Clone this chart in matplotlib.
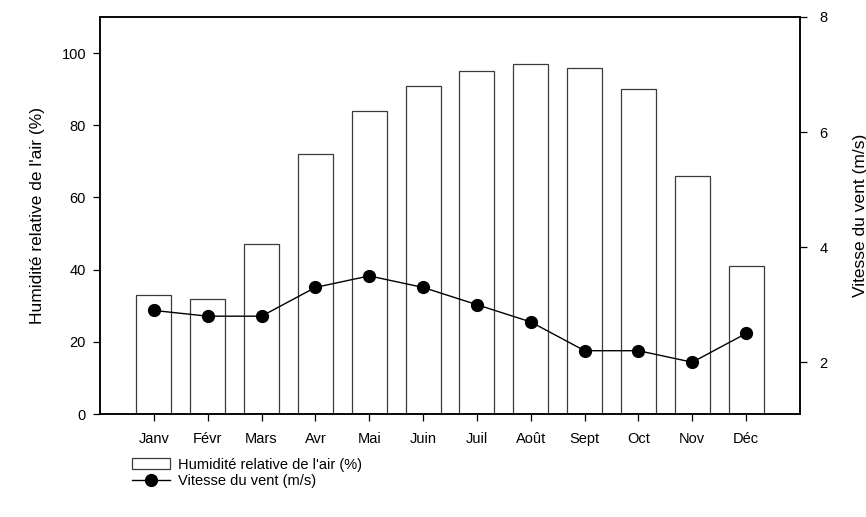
import matplotlib.pyplot as plt
import numpy as np

plt.rcParams['font.family'] = ['Liberation Sans', 'DejaVu Sans']

# Monthly data
mois = ['Janv', 'Févr', 'Mars', 'Avr', 'Mai', 'Juin', 'Juil', 'Août', 'Sept', 'Oct', 'Nov', 'Déc']
humidite = [33, 32, 47, 72, 84, 91, 95, 97, 96, 90, 66, 41]
vent = [2.9, 2.8, 2.8, 3.3, 3.5, 3.3, 3.0, 2.7, 2.2, 2.2, 2.0, 2.5]

x = np.arange(len(mois))

fig = plt.figure(figsize=(8.66, 5.17), dpi=100)
ax = fig.add_axes([100 / 866, 103 / 517, 700 / 866, 397 / 517])

bars = ax.bar(x, humidite, width=0.65, facecolor='white', edgecolor='#3a3a3a',
              linewidth=0.9, label="Humidité relative de l'air (%)")
ax.set_xlim(-1, 12)
ax.set_ylim(0, 110)
ax.set_xticks(x)
ax.set_xticklabels(mois, fontsize=10.5)
ax.set_yticks([0, 20, 40, 60, 80, 100])
ax.tick_params(axis='both', direction='out', length=5, width=0.9, labelsize=10.5, pad=5)
ax.tick_params(axis='x', pad=8)
ax.set_ylabel("Humidité relative de l'air (%)", fontsize=12.5, labelpad=12)
for s in ax.spines.values():
    s.set_linewidth(1.1)

ax2 = ax.twinx()
line, = ax2.plot(x, vent, color='black', linewidth=1.0, marker='o', markersize=8.5,
                 label='Vitesse du vent (m/s)')
ax2.set_ylim(1.1, 8)
ax2.set_yticks([2, 4, 6, 8])
ax2.tick_params(axis='y', direction='out', length=5, width=0.9, labelsize=10.5, pad=9)
ax2.set_ylabel('Vitesse du vent (m/s)', fontsize=12.5, labelpad=18)
for s in ax2.spines.values():
    s.set_linewidth(1.1)

fig.legend([bars, line], ["Humidité relative de l'air (%)", 'Vitesse du vent (m/s)'],
           loc='upper left', bbox_to_anchor=(126 / 866, 1 - 452 / 517), frameon=False,
           fontsize=10.5, handlelength=2.6, handleheight=0.8, labelspacing=0.15,
           handletextpad=0.6, borderaxespad=0)

fig.savefig('out.png', dpi=100)
